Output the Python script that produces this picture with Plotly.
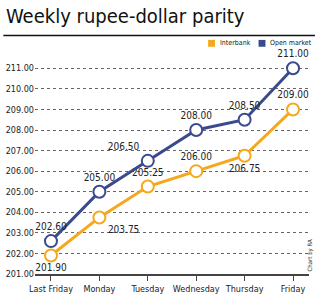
import plotly.graph_objects as go

days = ["Last Friday", "Monday", "Tuesday", "Wednesday", "Thursday", "Friday"]
interbank = [201.90, 203.75, 205.25, 206.00, 206.75, 209.00]
open_market = [202.60, 205.00, 206.50, 208.00, 208.50, 211.00]
y_ticks = [201, 202, 203, 204, 205, 206, 207, 208, 209, 210, 211]

ORANGE = "#F6A81C"
NAVY = "#3A4A8C"
FONT = "DejaVu Sans Condensed"

ib_pos = ["bottom center", "bottom right", "top center", "top center", "bottom center", "top center"]
om_pos = ["top center", "top center", "top left", "top center", "top center", "top center"]

fig = go.Figure()
fig.add_trace(go.Scatter(
    x=days, y=interbank, mode="lines+markers+text",
    line=dict(color=ORANGE, width=3),
    marker=dict(size=12, color="white", line=dict(color=ORANGE, width=2)),
    text=[f"{v:.2f}" for v in interbank], textposition=ib_pos,
    textfont=dict(family=FONT, size=10, color="#222"),
    showlegend=False, cliponaxis=False))
fig.add_trace(go.Scatter(
    x=days, y=open_market, mode="lines+markers+text",
    line=dict(color=NAVY, width=3),
    marker=dict(size=12, color="white", line=dict(color=NAVY, width=2)),
    text=[f"{v:.2f}" for v in open_market], textposition=om_pos,
    textfont=dict(family=FONT, size=10, color="#222"),
    showlegend=False, cliponaxis=False))

L, R, T, B = 32, 6, 58, 21
W, H = 315, 300
pw, ph = W - L - R, H - T - B

def px(x):
    return (x - L) / pw

def py(y):
    return (H - B - y) / ph

LEG_Y = 43
shapes = [
    dict(type="line", xref="paper", yref="paper", x0=px(0), x1=px(315), y0=py(35), y1=py(35),
         line=dict(color="#111", width=1.5)),
    dict(type="rect", xref="paper", yref="paper", x0=px(207), x1=px(214),
         y0=py(LEG_Y + 3.5), y1=py(LEG_Y - 3.5), fillcolor=ORANGE, line=dict(width=0)),
    dict(type="rect", xref="paper", yref="paper", x0=px(258), x1=px(265),
         y0=py(LEG_Y + 3.5), y1=py(LEG_Y - 3.5), fillcolor=NAVY, line=dict(width=0)),
]
annotations = [
    dict(text="Weekly rupee-dollar parity", xref="paper", yref="paper", x=px(1), y=py(15),
         xanchor="left", yanchor="middle", showarrow=False,
         font=dict(family=FONT, size=20, color="#111")),
    dict(text="Interbank", xref="paper", yref="paper", x=px(217), y=py(LEG_Y),
         xanchor="left", yanchor="middle", showarrow=False,
         font=dict(family=FONT, size=7, color="#222")),
    dict(text="Open market", xref="paper", yref="paper", x=px(314), y=py(LEG_Y),
         xanchor="right", yanchor="middle", showarrow=False,
         font=dict(family=FONT, size=7, color="#222")),
    dict(text="Chart by RA", xref="paper", yref="paper", x=px(310), y=py(260),
         xanchor="center", yanchor="middle", showarrow=False, textangle=-90,
         font=dict(family=FONT, size=6, color="#333")),
]

fig.update_layout(
    width=W, height=H, margin=dict(l=L, r=R, t=T, b=B),
    paper_bgcolor="white", plot_bgcolor="white",
    shapes=shapes, annotations=annotations,
    xaxis=dict(range=[-0.33, 5.33], showgrid=False, zeroline=False,
               showline=True, linecolor="#444", linewidth=1.5,
               ticks="outside", ticklen=5, tickcolor="#444", tickwidth=1,
               tickangle=0,
               tickfont=dict(family=FONT, size=9, color="#222")),
    yaxis=dict(range=[201, 211.5], tickvals=y_ticks, tickformat=".2f",
               showgrid=True, gridcolor="#666", griddash="dot", gridwidth=1,
               zeroline=False, showline=False, ticks="",
               tickfont=dict(family=FONT, size=9, color="#222")),
)
fig.write_html("out.html")
